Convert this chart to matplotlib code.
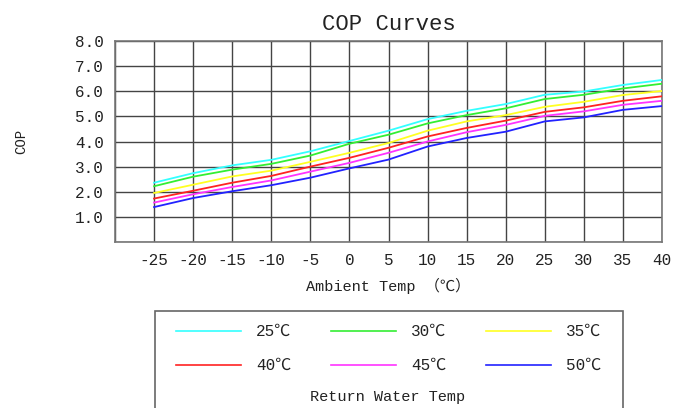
import numpy as np
import matplotlib
matplotlib.use("Agg")
import matplotlib.pyplot as plt
from matplotlib.lines import Line2D
from matplotlib.patches import Rectangle

plt.rcParams['font.family'] = ['Liberation Mono', 'Noto Sans CJK SC', 'DejaVu Sans']

# ambient temperatures (x axis)
ambient = [-25, -20, -15, -10, -5, 0, 5, 10, 15, 20, 25, 30, 35, 40]

# COP per return water temperature
cop_25 = [2.36, 2.74, 3.05, 3.27, 3.61, 4.02, 4.43, 4.89, 5.22, 5.49, 5.86, 5.99, 6.25, 6.45]
cop_30 = [2.22, 2.60, 2.88, 3.11, 3.44, 3.91, 4.27, 4.72, 5.05, 5.32, 5.69, 5.86, 6.11, 6.30]
cop_35 = [1.95, 2.28, 2.61, 2.84, 3.19, 3.55, 3.94, 4.43, 4.80, 5.05, 5.38, 5.58, 5.85, 6.01]
cop_40 = [1.73, 2.04, 2.36, 2.63, 3.00, 3.35, 3.75, 4.20, 4.54, 4.83, 5.18, 5.36, 5.62, 5.80]
cop_45 = [1.57, 1.90, 2.19, 2.45, 2.80, 3.15, 3.55, 4.00, 4.37, 4.66, 5.02, 5.20, 5.46, 5.62]
cop_50 = [1.39, 1.75, 2.02, 2.26, 2.56, 2.93, 3.28, 3.80, 4.14, 4.39, 4.80, 4.96, 5.26, 5.41]

series = [cop_25, cop_30, cop_35, cop_40, cop_45, cop_50]
labels = ['25℃', '30℃', '35℃', '40℃', '45℃', '50℃']
colors = ['#33ffff', '#33ee33', '#ffff22', '#ff2222', '#ff33ff', '#2222ff']

x_ticks = [-25, -20, -15, -10, -5, 0, 5, 10, 15, 20, 25, 30, 35, 40]
y_ticks = [1, 2, 3, 4, 5, 6, 7, 8]

W, H = 683, 408
fig = plt.figure(figsize=(W / 100, H / 100), dpi=100)
ax = fig.add_axes([115 / W, 1 - 242 / H, (662 - 115) / W, (242 - 41) / H])

for vals, lab, c in zip(series, labels, colors):
    ax.plot(ambient, vals, color=c, lw=1.3, label=lab, zorder=3)

ax.set_xlim(-30, 40)
ax.set_ylim(0, 8)
ax.set_xticks(np.arange(-30, 41, 5))
ax.set_xticklabels([''] + [str(v) for v in x_ticks])
ax.set_yticks(np.arange(0, 9, 1))
ax.set_yticklabels([''] + ['%.1f' % v for v in y_ticks])
ax.grid(True, color='#444444', lw=1.0)
ax.tick_params(length=0, labelsize=11.5, pad=8, colors='#222222')
for s in ax.spines.values():
    s.set_color('#777777')
    s.set_linewidth(1.2)

ax.set_title('COP Curves', fontsize=16, pad=8, color='#222222')
ax.set_ylabel('COP', fontsize=10, labelpad=34, color='#222222')
ax.set_xlabel('Ambient Temp （℃）', fontsize=11, labelpad=7, color='#222222')

# legend box drawn by hand, title at the bottom
fig.patches.append(Rectangle((155 / W, -0.05), (623 - 155) / W, 0.05 + 1 - 311 / H,
                             transform=fig.transFigure, fill=False,
                             edgecolor='#666666', lw=1.2))
col_x = [176, 331, 486]
row_y = [331, 365]
for i, (lab, c) in enumerate(zip(labels, colors)):
    x0 = col_x[i % 3]
    y0 = row_y[i // 3]
    fig.lines.append(Line2D([x0 / W, (x0 + 65) / W], [1 - y0 / H, 1 - y0 / H],
                            transform=fig.transFigure, color=c, lw=1.2))
    fig.text((x0 + 80) / W, 1 - y0 / H, lab, fontsize=11.5, va='center', color='#222222')
fig.text(388 / W, 1 - 397 / H, 'Return Water Temp', fontsize=11, ha='center',
         va='center', color='#222222')

fig.savefig('out.png', dpi=100)
